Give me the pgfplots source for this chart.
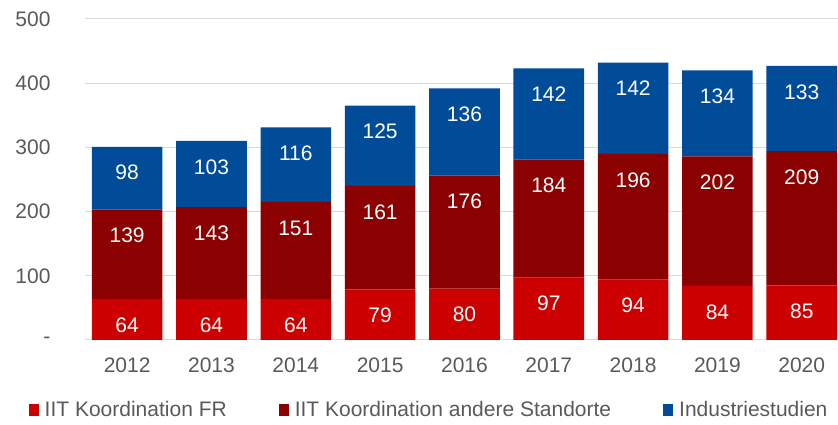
\documentclass[border=0pt]{standalone}
\usepackage{fontspec}
\setmainfont{Liberation Sans}
\usepackage{pgfplots}
\pgfplotsset{compat=1.18}
\usepackage{pgfplotstable}
\definecolor{cRed}{RGB}{204,0,0}
\definecolor{cDark}{RGB}{139,0,0}
\definecolor{cBlue}{RGB}{0,76,153}
\definecolor{cText}{RGB}{89,89,89}
\definecolor{cGrid}{RGB}{217,217,217}
\pgfplotstableread{
i r d b
0 64 139 98
1 64 143 103
2 64 151 116
3 79 161 125
4 80 176 136
5 97 184 142
6 94 196 142
7 84 202 134
8 85 209 133
}\data
\pgfplotsset{
  geom/.style={
    at={(0,0)}, anchor=south west,
    scale only axis, width=753pt, height=321pt,
    xmin=-0.5, xmax=8.43, ymin=0, ymax=500,
  }
}
\begin{document}
\begin{tikzpicture}
\useasboundingbox (-85pt,-85pt) rectangle (753pt,340pt);
\begin{axis}[
  geom,
  ybar stacked, bar width=70.6pt,
  xtick={0,1,2,3,4,5,6,7,8},
  xticklabels={2012,2013,2014,2015,2016,2017,2018,2019,2020},
  ytick={0,100,200,300,400,500},
  yticklabels={-,100,200,300,400,500},
  ymajorgrids, grid style={cGrid, line width=1pt},
  axis line style={draw=none}, major tick length=0pt,
  tick label style={font=\fontsize{21}{25}\selectfont, text=cText},
  yticklabel style={xshift=-31pt},
  xticklabel style={yshift=-14pt},
  /pgf/number format/assume math mode=true,
  legend columns=3,
  legend style={draw=none, fill=none, at={(-0.075,-0.218)}, anchor=west,
    font=\fontsize{21}{25}\selectfont, text=cText, inner sep=0pt,
    /tikz/every even column/.append style={column sep=50pt},
    /tikz/every odd column/.append style={column sep=4pt}},
  legend image code/.code={\fill[#1] (0pt,-6pt) rectangle (10pt,6pt);},
]
\addplot[fill=cRed, draw=none] table[x=i, y=r]{\data};
\addlegendentry{IIT Koordination FR}
\addplot[fill=cDark, draw=none] table[x=i, y=d]{\data};
\addlegendentry{IIT Koordination andere Standorte}
\addplot[fill=cBlue, draw=none] table[x=i, y=b]{\data};
\addlegendentry{Industriestudien}
\end{axis}
\begin{axis}[
  geom,
  axis lines=none, xtick=\empty, ytick=\empty,
  nodes near coords, point meta=explicit symbolic,
  every node near coord/.append style={anchor=center, yshift=-26pt,
    font=\fontsize{21}{25}\selectfont, text=white},
]
\addplot[draw=none, mark=none] table[x=i, y expr=\thisrow{r}, meta=r]{\data};
\addplot[draw=none, mark=none] table[x=i, y expr=\thisrow{r}+\thisrow{d}, meta=d]{\data};
\addplot[draw=none, mark=none] table[x=i, y expr=\thisrow{r}+\thisrow{d}+\thisrow{b}, meta=b]{\data};
\end{axis}
\end{tikzpicture}
\end{document}
